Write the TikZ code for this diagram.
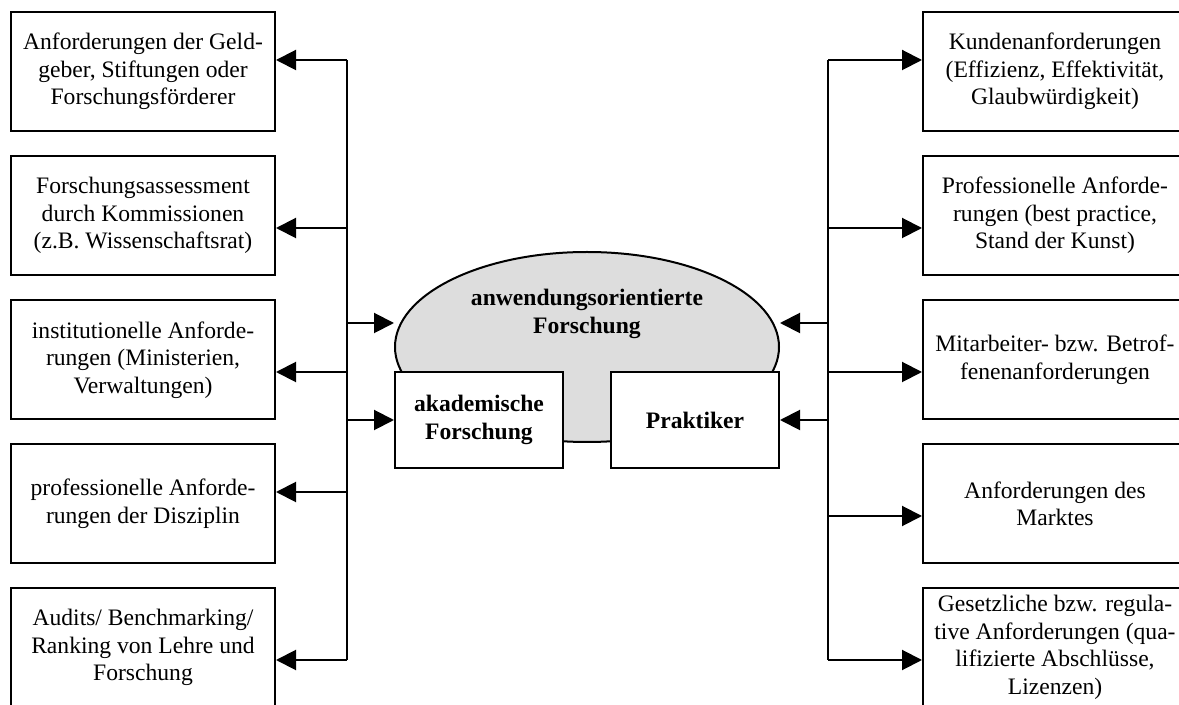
\documentclass[tikz,border=0pt]{standalone}
\usepackage{fontspec}
\setmainfont{Liberation Serif}
\usetikzlibrary{arrows.meta,shapes.geometric}

\begin{document}
\begin{tikzpicture}[x=0.5pt,y=-0.5pt,line width=1pt,
  font=\fontsize{11.8}{13.8}\selectfont,
  box/.style={draw,fill=white,minimum width=132pt,minimum height=59.5pt,align=center,inner sep=2pt},
  inner/.style={draw,fill=white,minimum width=84pt,minimum height=48pt,align=center,font=\fontsize{11.8}{13.8}\selectfont\bfseries},
  arr/.style={-{Triangle[length=10pt,width=10pt]}}]
\useasboundingbox (0,0) rectangle (1179,705);
\clip (0,0) rectangle (1179,705);

% center
\node[ellipse,draw,fill=gray!27,minimum width=192pt,minimum height=95pt,inner sep=0pt] (ell) at (587,347) {};
\node[align=center,font=\fontsize{11.8}{13.8}\selectfont\bfseries] (ellt) at (587,314) {anwendungsorientierte\\Forschung};
\node[inner] (akad) at (479,420) {akademische\\Forschung};
\node[inner] (prak) at (695,420) {Praktiker};

% left column
\node[box] (b1) at (143,71.5) {Anforderungen der Geld-\\geber, Stiftungen oder\\Forschungsförderer};
\node[box] (b2) at (143,215.5) {Forschungsassessment\\durch Kommissionen\\(z.B. Wissenschaftsrat)};
\node[box] (b3) at (143,360) {institutionelle Anforde-\\rungen (Ministerien,\\Verwaltungen)};
\node[box] (b4) at (143,504) {professionelle Anforde-\\rungen der Disziplin};
\node[box] (b5) at (143,647.5) {Audits/ Benchmarking/\\Ranking von Lehre und\\Forschung};

% right column
\node[box] (c1) at (1055,71.5) {Kundenanforderungen\\(Effizienz, Effektivität,\\Glaubwürdigkeit)};
\node[box] (c2) at (1055,215.5) {Professionelle Anforde-\\rungen (best practice,\\Stand der Kunst)};
\node[box] (c3) at (1055,360) {Mitarbeiter- bzw. Betrof-\\fenenanforderungen};
\node[box] (c4) at (1055,504) {Anforderungen des\\Marktes};
\node[box] (c5) at (1055,647.5) {Gesetzliche bzw. regula-\\tive Anforderungen (qua-\\lifizierte Abschlüsse,\\Lizenzen)};

% left trunk
\foreach \n/\y in {1/60,2/228,3/372,4/492,5/660}{
  \coordinate (l\n) at (347,\y);
  \draw[arr] (l\n) -- (l\n -| b\n.east);
}
\draw (l1) -- (l5);
\coordinate (le) at (347,323);
\coordinate (la) at (347,420);
\draw[arr] (le) -- (le -| ell.west);
\draw[arr] (la) -- (akad.west);

% right trunk
\foreach \n/\y in {1/60,2/228,3/372,4/516,5/660}{
  \coordinate (r\n) at (828,\y);
  \draw[arr] (r\n) -- (r\n -| c\n.west);
}
\draw (r1) -- (r5);
\coordinate (re) at (828,323);
\coordinate (rp) at (828,420);
\draw[arr] (re) -- (re -| ell.east);
\draw[arr] (rp) -- (prak.east);
\end{tikzpicture}
\end{document}
